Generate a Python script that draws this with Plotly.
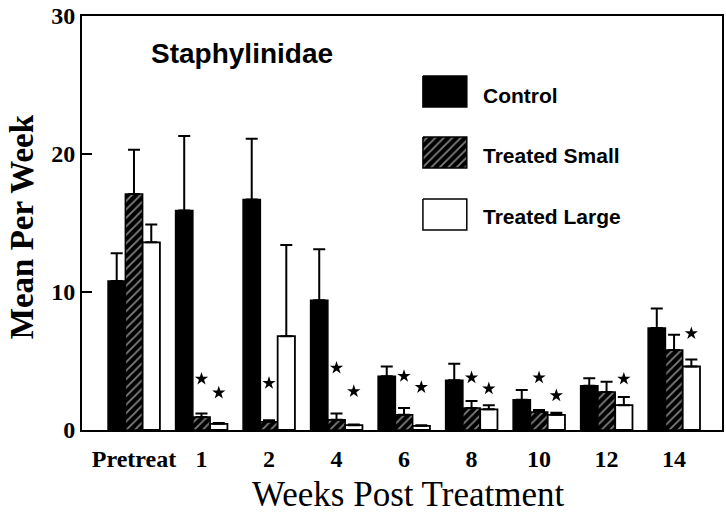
import plotly.graph_objects as go

categories = ["Pretreat", "1", "2", "4", "6", "8", "10", "12", "14"]
control = [10.8, 15.9, 16.7, 9.4, 3.9, 3.6, 2.2, 3.2, 7.4]
control_err = [2.0, 5.4, 4.4, 3.7, 0.7, 1.2, 0.7, 0.55, 1.4]
small = [17.1, 0.95, 0.6, 0.75, 1.1, 1.6, 1.3, 2.75, 5.8]
small_err = [3.2, 0.25, 0.1, 0.45, 0.5, 0.5, 0.15, 0.75, 1.1]
large = [13.6, 0.45, 6.8, 0.35, 0.3, 1.5, 1.1, 1.8, 4.6]
large_err = [1.3, 0.05, 6.6, 0.05, 0.05, 0.3, 0.15, 0.6, 0.5]
# significance stars: (category index, y)
stars_small = [(1, 3.7), (2, 3.4), (3, 4.5), (4, 3.9), (5, 3.8), (6, 3.8)]
stars_large = [(1, 2.7), (3, 2.8), (4, 3.1), (5, 3.0), (6, 2.5), (7, 3.7), (8, 7.0)]
y_ticks = [0, 10, 20, 30]

W, H = 726, 518
L, R, T, B = 82, 724, 16, 430
pw, ph = R - L, B - T
BARGAP = 0.232
bw = (1 - BARGAP) / 3


def px(x):
    return (x - L) / pw


def py(y):
    return (B - y) / ph


xs = list(range(len(categories)))
err_style = dict(type="data", symmetric=False, color="black", thickness=2, width=6)
hatch = dict(shape="/", bgcolor="black", fgcolor="white", size=6, solidity=0.3)

fig = go.Figure()
fig.add_trace(go.Bar(x=xs, y=control, name="Control",
                     marker=dict(color="black", line=dict(color="black", width=1.5)),
                     error_y=dict(array=control_err, arrayminus=[0] * len(xs), **err_style)))
fig.add_trace(go.Bar(x=xs, y=small, name="Treated Small",
                     marker=dict(color="black", pattern=hatch, line=dict(color="black", width=1.5)),
                     error_y=dict(array=small_err, arrayminus=[0] * len(xs), **err_style)))
fig.add_trace(go.Bar(x=xs, y=large, name="Treated Large",
                     marker=dict(color="white", line=dict(color="black", width=1.8)),
                     error_y=dict(array=large_err, arrayminus=[0] * len(xs), **err_style)))

fig.add_trace(go.Scatter(x=[i for i, _ in stars_small], y=[v for _, v in stars_small],
                         mode="markers", marker=dict(symbol="star", size=10, color="black"),
                         showlegend=False, hoverinfo="skip"))
fig.add_trace(go.Scatter(x=[i + bw for i, _ in stars_large], y=[v for _, v in stars_large],
                         mode="markers", marker=dict(symbol="star", size=10, color="black"),
                         showlegend=False, hoverinfo="skip"))

# custom legend boxes on an overlay paper-like axis
boxes = [
    ("Control", 76, 107, dict(fillcolor="black"), 96),
    ("Treated Small", 137, 168, dict(fillcolor="black", fillpattern=hatch), 155),
    ("Treated Large", 199, 230, dict(fillcolor="white"), 216),
]
for name, y0, y1, fill, ty in boxes:
    x0, x1 = 424, 468
    fig.add_trace(go.Scatter(
        x=[px(x0), px(x1), px(x1), px(x0), px(x0)],
        y=[py(y0), py(y0), py(y1), py(y1), py(y0)],
        xaxis="x2", yaxis="y2", mode="lines", fill="toself",
        line=dict(color="black", width=1.5), showlegend=False, hoverinfo="skip", **fill))
    fig.add_annotation(xref="paper", yref="paper", x=px(482), y=py(ty), text=name,
                       showarrow=False, xanchor="left", yanchor="middle",
                       font=dict(family="Liberation Sans", size=21, color="black", weight="bold"))

fig.add_annotation(xref="paper", yref="paper", x=px(242), y=py(54), text="Staphylinidae",
                   showarrow=False, xanchor="center", yanchor="middle",
                   font=dict(family="Liberation Sans", size=28, color="black", weight="bold"))
fig.add_annotation(xref="paper", yref="paper", x=px(409), y=py(494), text="Weeks Post Treatment",
                   showarrow=False, xanchor="center", yanchor="middle",
                   font=dict(family="Liberation Serif", size=35, color="black"))
fig.add_annotation(xref="paper", yref="paper", x=px(22), y=py(227), text="Mean Per Week",
                   showarrow=False, xanchor="center", yanchor="middle", textangle=-90,
                   font=dict(family="Liberation Serif", size=33, color="black", weight="bold"))

fig.update_layout(
    width=W, height=H, margin=dict(l=L, r=W - R, t=T, b=H - B),
    paper_bgcolor="white", plot_bgcolor="white",
    barmode="group", bargap=BARGAP, bargroupgap=0, showlegend=False,
    xaxis=dict(range=[-0.77, 8.71], tickvals=xs, ticktext=categories, ticks="",
               showgrid=False, zeroline=False, showline=True, linecolor="black", linewidth=2,
               mirror=True, ticklabelstandoff=6,
               tickfont=dict(family="Liberation Serif", size=24, color="black", weight="bold")),
    yaxis=dict(range=[0, 30], tickvals=y_ticks, ticks="inside", ticklen=10, tickwidth=2,
               tickcolor="black", showgrid=False, zeroline=False, showline=True,
               linecolor="black", linewidth=2, mirror=True,
               tickfont=dict(family="Liberation Serif", size=24, color="black", weight="bold")),
    xaxis2=dict(overlaying="x", range=[0, 1], visible=False),
    yaxis2=dict(overlaying="y", range=[0, 1], visible=False),
)

fig.write_html("out.html", config={"displayModeBar": False},
               post_script="document.body.style.margin='0';document.body.style.overflow='hidden';")
